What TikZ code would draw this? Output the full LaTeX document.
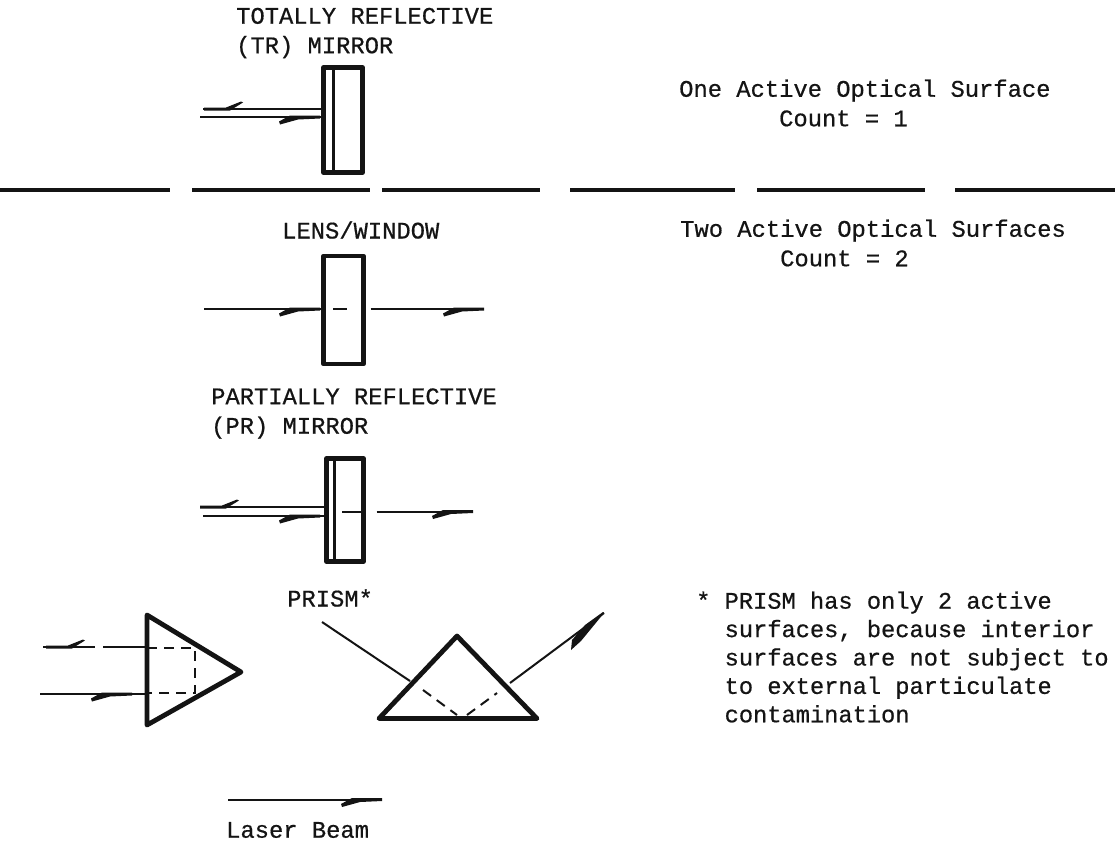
\documentclass[tikz,border=0pt]{standalone}
\usepackage{fontspec}
\setmainfont[FakeBold=0.6]{Liberation Mono}
\newcommand{\lbl}{\fontsize{23.8}{29.5}\selectfont}
\newcommand{\lblnote}{\fontsize{23.7}{28.4}\selectfont}
\tikzset{
  x=1pt,y=-1pt,
  ink/.style={color=black!92},
  txt/.style={ink,inner sep=0pt,anchor=west,align=left,font=\lbl},
  optic/.style={ink,draw,line width=4.4pt,line join=round,inner sep=0pt,rectangle},
  prismline/.style={ink,draw,line width=4.8pt,line join=round},
  beam/.style={ink,line width=2pt},
  inner/.style={ink,line width=2pt,dash pattern=on 10pt off 7pt},
  split/.style={ink,line width=3.4pt},
  barbl/.pic={\fill[black!92] (0,-1) -- (22,-1) -- (37,-7) -- (39,-6) -- (26,2) -- (0,2) -- cycle;},
  barbr/.pic={\fill[black!92] (0,-1) -- (-30,-1) -- (-41,5) -- (-40,8) -- (-22,3) -- (0,2) -- cycle;},
}
\begin{document}
\begin{tikzpicture}
\useasboundingbox (0,0) rectangle (1115,843);
% labels
\node[txt] (t1) at (236,33) {TOTALLY REFLECTIVE\\(TR) MIRROR};
\node[txt] (t2) at (679,103) {One Active Optical Surface\\\phantom{1234567}Count = 1};
\node[txt] (t3) at (282,230) {LENS/WINDOW};
\node[txt] (t4) at (680,243) {Two Active Optical Surfaces\\\phantom{1234567}Count = 2};
\node[txt] (t5) at (211,413.5) {PARTIALLY REFLECTIVE\\(PR) MIRROR};
\node[txt] (t6) at (287,598) {PRISM*};
\node[txt,font=\lblnote] (t7) at (696,657) {* PRISM has only 2 active\\\phantom{* }surfaces, because interior\\\phantom{* }surfaces are not subject to\\\phantom{* }to external particulate\\\phantom{* }contamination};
\node[txt] (t8) at (226,830) {Laser Beam};
% divider
\coordinate (d0) at (0,190); \coordinate (d1) at (170,190);
\coordinate (d2) at (192,190); \coordinate (d3) at (370,190);
\coordinate (d4) at (382,190); \coordinate (d5) at (540,190);
\coordinate (d6) at (570,190); \coordinate (d7) at (735,190);
\coordinate (d8) at (757,190); \coordinate (d9) at (925,190);
\coordinate (d10) at (955,190); \coordinate (d11) at (1115,190);
\draw[split] (d0)--(d1) (d2)--(d3) (d4)--(d5) (d6)--(d7) (d8)--(d9) (d10)--(d11);
% TR mirror
\node[optic,minimum width=39pt,minimum height=105pt] (tr) at (343,120) {};
\draw[ink,line width=3.4pt] ([xshift=12pt]tr.north west) -- ([xshift=12pt]tr.south west);
\coordinate (a1) at (203,109); \coordinate (a2) at (200,117);
\draw[beam] (a1) -- (a1 -| tr.west);
\draw[beam] (a2) -- (a2 -| tr.west);
\pic at (204,108.5) {barbl};
\pic at (320,116.5) {barbr};
% Lens
\node[optic,minimum width=40pt,minimum height=108pt] (lens) at (343.5,310) {};
\coordinate (b1) at (204,309); \coordinate (b2) at (484,309);
\draw[beam] (b1) -- (b1 -| lens.west);
\draw[beam] ([xshift=12pt]b1 -| lens.west) -- ([xshift=26pt]b1 -| lens.west);
\draw[beam] ([xshift=5pt]b1 -| lens.east) -- (b2);
\pic at (320,308.5) {barbr};
\pic at (484,308.5) {barbr};
% PR mirror
\node[optic,minimum width=37pt,minimum height=103pt] (pr) at (345,510) {};
\draw[ink,line width=3.4pt] ([xshift=10pt]pr.north west) -- ([xshift=10pt]pr.south west);
\coordinate (c1) at (200,507); \coordinate (c2) at (203,516); \coordinate (c3) at (473,511.5);
\draw[beam] (c1) -- (c1 -| pr.west);
\draw[beam] (c2) -- (c2 -| pr.west);
\draw[beam] ([xshift=18pt]c3 -| pr.west) -- (c3 -| pr.east);
\draw[beam] ([xshift=11pt]c3 -| pr.east) -- (c3);
\pic at (200,506.5) {barbl};
\pic at (320,515.5) {barbr};
\pic at (473,511) {barbr};
% Left prism
\coordinate (p1) at (147,615); \coordinate (p2) at (147,725); \coordinate (p3) at (241,672);
\draw[prismline] (p1) -- (p3) -- (p2) -- cycle;
\coordinate (e1) at (43,647); \coordinate (e1g) at (95,647); \coordinate (e1h) at (103,647);
\coordinate (e2) at (40,694);
\coordinate (e3) at (195,648); \coordinate (e4) at (195,693);
\draw[beam] (e1) -- (e1g) (e1h) -- (e1h -| p1);
\draw[beam] (e2) -- (e2 -| p1);
\draw[inner] (p1 |- e3) -- (e3) -- (e4) -- (p1 |- e4);
\pic at (46,646.5) {barbl};
\pic at (132,693.5) {barbr};
% Right prism
\coordinate (q1) at (457,636); \coordinate (q2) at (379,718.5); \coordinate (q3) at (537,718.5);
\draw[prismline] (q1) -- (q2) -- (q3) -- cycle;
\coordinate (f0) at (322,622); \coordinate (f1) at (410,681);
\coordinate (f1a) at (423,690); \coordinate (f2a) at (457,715);
\coordinate (f2b) at (467,715); \coordinate (f3a) at (497,693);
\coordinate (f3) at (510,683); \coordinate (f4) at (604,613);
\draw[beam] (f0) -- (f1);
\draw[inner] (f1a) -- (f2a);
\draw[inner] (f2b) -- (f3a);
\draw[beam] (f3) -- (f4);
\fill[black!92] (f4) -- (603,612) -- (585,625) -- (572,640) -- (571,650) -- (581,641) -- cycle;
% Legend
\coordinate (g1) at (228,799.5); \coordinate (g2) at (382,799.5);
\draw[beam] (g1) -- (g2);
\pic at (382,799) {barbr};
\end{tikzpicture}
\end{document}
